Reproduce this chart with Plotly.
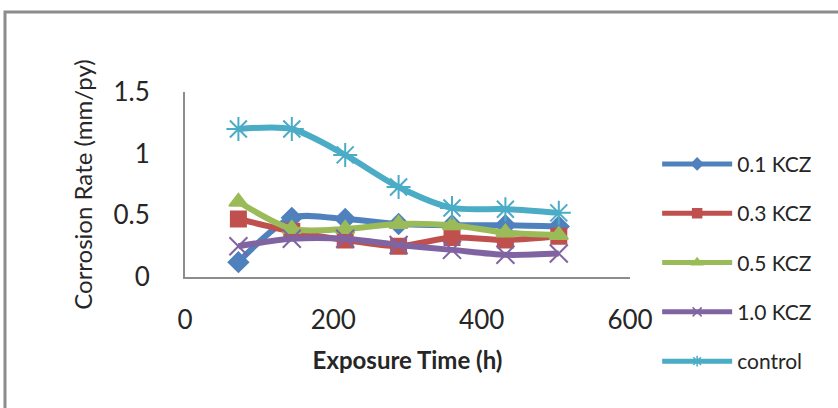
import plotly.graph_objects as go

time_h = [72, 144, 216, 288, 360, 432, 504]
kcz_01 = [0.12, 0.48, 0.47, 0.43, 0.42, 0.42, 0.41]
kcz_03 = [0.47, 0.37, 0.30, 0.25, 0.32, 0.30, 0.33]
kcz_05 = [0.61, 0.39, 0.39, 0.43, 0.42, 0.36, 0.34]
kcz_10 = [0.25, 0.31, 0.31, 0.26, 0.22, 0.18, 0.19]
control = [1.20, 1.20, 0.99, 0.73, 0.56, 0.55, 0.52]

series = [
    ("0.1 KCZ", kcz_01, "#4F81BD", "diamond", 15),
    ("0.3 KCZ", kcz_03, "#C0504D", "square", 15),
    ("0.5 KCZ", kcz_05, "#9BBB59", "triangle-up", 16),
    ("1.0 KCZ", kcz_10, "#8064A2", "x-thin-open", 18),
    ("control", control, "#4BACC6", "asterisk-open", 20),
]

fig = go.Figure()
for name, vals, col, sym, msize in series:
    fig.add_trace(go.Scatter(
        x=time_h, y=vals, name=name, legendgroup=name, showlegend=False,
        mode="lines+markers",
        line=dict(color=col, width=6, shape="spline", smoothing=0.8),
        marker=dict(symbol=sym, size=msize, color=col,
                    line=dict(color=col, width=2)),
    ))
    # legend entry with smaller marker, as in the reference
    fig.add_trace(go.Scatter(
        x=[None], y=[None], name=name, legendgroup=name, showlegend=True,
        mode="lines+markers",
        line=dict(color=col, width=5),
        marker=dict(symbol=sym, size=9, color=col,
                    line=dict(color=col, width=1.5)),
    ))

font = "Lato, 'Open Sans', sans-serif"
fig.update_layout(
    width=838, height=408,
    margin=dict(l=185, r=208, t=92, b=131),
    paper_bgcolor="white", plot_bgcolor="white",
    font=dict(family=font, color="#262626", size=20),
    showlegend=True,
    legend=dict(x=1.061, xanchor="left", y=0.72, yanchor="top",
                font=dict(size=21, family=font, color="#262626"),
                tracegroupgap=19, itemwidth=70, maxheight=400,
                bgcolor="rgba(0,0,0,0)"),
    xaxis=dict(range=[0, 600], tickvals=[0, 200, 400, 600],
               showgrid=False, zeroline=False, showline=True,
               linecolor="#8c8c8c", linewidth=2, ticks="",
               ticklabelstandoff=19, tickfont=dict(size=26),
               title=dict(text="<b>Exposure Time (h)</b>",
                          font=dict(size=24), standoff=18)),
    yaxis=dict(range=[0, 1.5], tickvals=[0, 0.5, 1, 1.5],
               ticktext=["0", "0.5", "1", "1.5"],
               showgrid=False, zeroline=False, showline=True,
               linecolor="#8c8c8c", linewidth=2, ticks="",
               ticklabelstandoff=28, tickfont=dict(size=26),
               title=dict(text="Corrosion Rate (mm/py)",
                          font=dict(size=24), standoff=14)),
    shapes=[dict(type="rect", xref="paper", yref="paper",
                 x0=-0.4045, x1=2.0, y0=-0.9, y1=1.432,
                 line=dict(color="#8c8c8c", width=3), layer="below")],
)

fig.write_html("out.html")
